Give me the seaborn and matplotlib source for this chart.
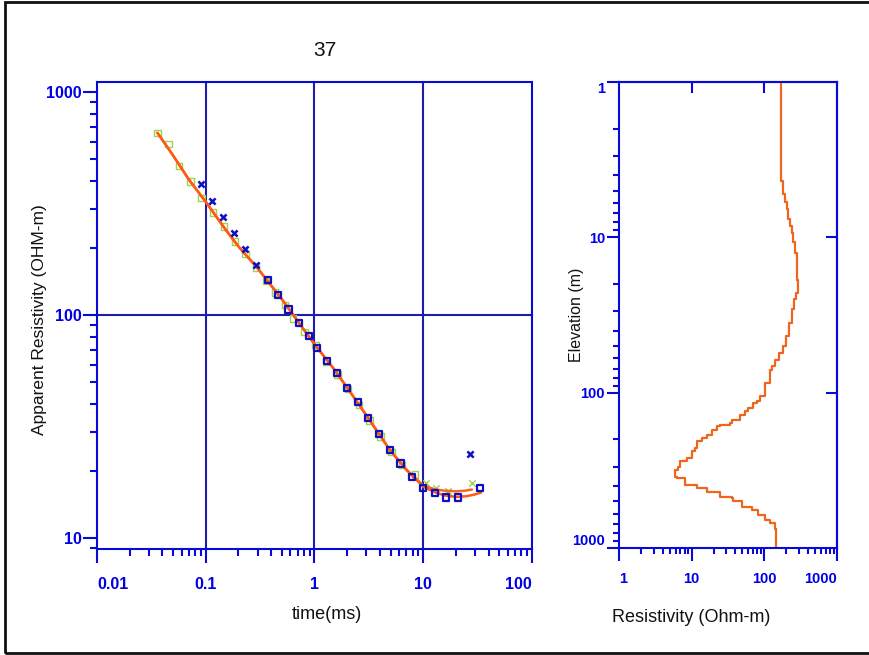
import numpy as np
import pandas as pd
import matplotlib
matplotlib.use("Agg")
import matplotlib.pyplot as plt
import seaborn as sns
from matplotlib.ticker import LogLocator, NullFormatter
from matplotlib.patches import Rectangle

sns.set_theme(style="ticks")
plt.rcParams["font.family"] = ["Liberation Sans", "DejaVu Sans"]

# --- sounding data (time in ms, apparent resistivity in ohm-m) ---
blue_x_t = [0.090, 0.1135, 0.143, 0.181, 0.232, 0.292, 26.8]
blue_x_rho = [388, 326, 276, 234, 198, 168, 23.8]
blue_sq_t = [0.371, 0.462, 0.576, 0.721, 0.886, 1.057, 1.306, 1.614, 1.995, 2.50,
             3.11, 3.90, 4.93, 6.18, 7.91, 9.98, 12.8, 16.1, 20.7, 33.2]
blue_sq_rho = [144, 123, 106, 91.8, 80.7, 71.0, 62.4, 54.8, 47.2, 40.6,
               34.5, 29.2, 24.8, 21.6, 18.8, 16.8, 15.9, 15.2, 15.2, 16.8]

green_sq_t = [0.036, 0.0457, 0.0568, 0.0723, 0.0912, 0.1167, 0.147, 0.186, 0.232, 0.290,
              0.36, 0.432, 0.533, 0.636, 0.81, 1.02, 1.28, 1.62, 2.03, 2.56,
              3.22, 4.06, 5.1, 6.4, 8.37]
green_sq_rho = [656, 585, 466, 396, 335, 288, 249, 214, 188, 163,
                142, 126, 111, 96.7, 84.1, 73.3, 62.0, 54.0, 46.5, 39.5,
                33.6, 28.5, 24.3, 21.3, 19.3]
green_x_t = [10.6, 13.2, 16.9, 27.8]
green_x_rho = [17.6, 16.8, 16.3, 17.7]

# model responses
model_a_t = [0.036, 0.05, 0.07, 0.1, 0.15, 0.2, 0.3, 0.5, 0.7, 1.0, 1.5, 2.0, 3.0,
             5.0, 7.0, 10, 13, 16, 20, 25, 30, 34]
model_a_rho = [656, 520, 405, 322, 244, 203, 162, 118, 94, 74, 57.5, 47.2, 35.5,
               24.6, 20.2, 17.0, 16.0, 15.5, 15.3, 15.4, 15.7, 16.0]
model_b_t = [0.036, 0.05, 0.07, 0.1, 0.15, 0.2, 0.3, 0.5, 0.7, 1.0, 1.5, 2.0, 3.0,
             5.0, 7.0, 10, 13, 16, 20, 24, 28]
model_b_rho = [656, 520, 405, 322, 244, 203, 162, 118, 94, 74, 57.5, 47.2, 35.5,
               24.6, 20.3, 17.2, 16.5, 16.3, 16.2, 16.3, 16.5]

# --- layered model (top of layer in m, resistivity in ohm-m) ---
layer_top = [1, 4.33, 5.28, 5.97, 6.6, 7.65, 8.5, 9.33, 10.8, 12.6, 15.0, 18.7, 22.7,
             25.1, 29.1, 35.5, 43.3, 50.3, 55.5, 61.2, 67.6, 71, 86.6, 105.6, 113.8,
             116.6, 125.6, 132, 138.7, 149.4, 156.8, 160.8, 165, 173.3, 186.6, 196,
             206, 227, 239, 264, 277, 299, 314, 347, 355, 392, 412, 433, 467, 478,
             502, 542, 569, 612, 659, 693, 757]
layer_rho = [169, 182, 192, 203, 213, 225, 238, 250, 264, 278, 284, 287, 270,
             255, 237, 220, 200, 180, 160, 140, 126, 119, 102, 87, 78,
             70, 60, 54, 46, 35.5, 33.6, 24.5, 22.1, 18.8, 16.1, 13.7,
             11.7, 11.1, 10, 8.5, 6.9, 6.5, 5.9, 6.2, 8.1, 11.7, 16.1, 24.5, 35.5, 37.4,
             48.7, 66.9, 82.5, 102, 119, 140, 144.5]
model_bottom = 1000

AX_BLUE = "#0a0ad8"
GRID_BLUE = "#1c1cb0"
LBL_BLUE = "#0000e6"
GREEN = "#a2d050"
ORANGE = "#ff5a14"
ORANGE2 = "#f26b1d"
TICKFONT = ["Liberation Sans", "DejaVu Sans"]

fig = plt.figure(figsize=(8.69, 6.55), dpi=100)
ax1 = fig.add_axes([0.1116, 0.1618, 0.5006, 0.7130])
ax2 = fig.add_axes([0.7123, 0.1634, 0.2509, 0.7115])

# ---------- left panel ----------
ax1.set_xscale("log")
ax1.set_yscale("log")
ax1.set_xlim(0.01, 100)
ax1.set_ylim(8.93, 1109)

for v in [0.1, 1, 10]:
    ax1.axvline(v, color=GRID_BLUE, lw=1.5, zorder=1)
ax1.axhline(100, color=GRID_BLUE, lw=1.5, zorder=1)

sns.scatterplot(x=green_sq_t, y=green_sq_rho, ax=ax1, marker="s", s=22,
                facecolor="none", edgecolor=GREEN, linewidth=1.0, zorder=3)
sns.scatterplot(x=green_x_t, y=green_x_rho, ax=ax1, marker="x", s=22,
                color=GREEN, linewidth=1.0, zorder=3)
sns.lineplot(x=model_b_t, y=model_b_rho, ax=ax1, color=ORANGE2, lw=1.8,
             estimator=None, sort=False, zorder=4)
sns.lineplot(x=model_a_t, y=model_a_rho, ax=ax1, color=ORANGE, lw=1.8,
             estimator=None, sort=False, zorder=4)
sns.scatterplot(x=blue_sq_t, y=blue_sq_rho, ax=ax1, marker="s", s=20,
                facecolor="none", edgecolor="#1010c0", linewidth=1.6, zorder=5)
sns.scatterplot(x=blue_x_t, y=blue_x_rho, ax=ax1, marker="x", s=20,
                color="#1010c0", linewidth=1.8, zorder=5)

ax1.set_xticks([0.01, 0.1, 1, 10, 100], labels=["0.01", "0.1", "1", "10", "100"])
ax1.set_yticks([10, 100, 1000], labels=["10", "100", "1000"])
ax1.xaxis.set_minor_locator(LogLocator(base=10, subs=np.arange(2, 10)))
ax1.yaxis.set_minor_locator(LogLocator(base=10, subs=np.arange(2, 10)))
ax1.xaxis.set_minor_formatter(NullFormatter())
ax1.yaxis.set_minor_formatter(NullFormatter())
ax1.tick_params(which="major", direction="out", length=10, width=1.5, color=AX_BLUE,
                labelcolor=LBL_BLUE, labelsize=11.5)
ax1.tick_params(axis="x", which="major", pad=10)
ax1.tick_params(axis="y", which="major", pad=1)
ax1.tick_params(which="minor", direction="out", length=5, width=1.5, color=AX_BLUE)
xl = ax1.get_xticklabels()
xl[0].set_ha("left")
xl[-1].set_ha("right")
for lab in ax1.get_xticklabels() + ax1.get_yticklabels():
    lab.set_fontfamily(TICKFONT)
    lab.set_fontweight("bold")
for sp in ax1.spines.values():
    sp.set_visible(True)
    sp.set_color(AX_BLUE)
    sp.set_linewidth(1.5)

ax1.set_xlabel("time(ms)", fontsize=13, color="#111111", va="center")
ax1.xaxis.set_label_coords(0.529, -0.141)
ax1.set_ylabel("Apparent Resistivity (OHM-m)", fontsize=12.5, color="#111111", va="center")
ax1.yaxis.set_label_coords(-0.131, 0.491)

fig.text(325 / 869, 1 - 50 / 655, "37", ha="center", va="center", fontsize=15,
         color="#111111")

# ---------- right panel ----------
ax2.set_xscale("log")
ax2.set_yscale("log")
ax2.set_xlim(1, 1000)
ax2.set_ylim(1000, 1)

step_x = np.repeat(layer_rho, 2)
step_y = np.column_stack([layer_top, layer_top[1:] + [model_bottom]]).ravel()
steps = pd.DataFrame({"rho": step_x, "depth": step_y})
sns.lineplot(data=steps, x="rho", y="depth", ax=ax2, color="#f0651e", lw=1.6,
             estimator=None, sort=False)

ax2.set_xticks([1, 10, 100, 1000], labels=["1", "10", "100", "1000"])
ax2.set_yticks([1, 10, 100, 1000], labels=["1", "10", "100", "1000"])
ax2.xaxis.set_minor_locator(LogLocator(base=10, subs=np.arange(2, 10)))
ax2.yaxis.set_minor_locator(LogLocator(base=10, subs=np.arange(2, 10)))
ax2.xaxis.set_minor_formatter(NullFormatter())
ax2.yaxis.set_minor_formatter(NullFormatter())
ax2.tick_params(which="major", direction="out", length=9, width=1.5, color=AX_BLUE,
                labelcolor=LBL_BLUE, labelsize=10.5)
ax2.tick_params(axis="x", which="major", pad=8)
ax2.tick_params(axis="y", which="major", pad=1)
ax2.tick_params(which="minor", direction="out", length=4.5, width=1.5, color=AX_BLUE)
xl2 = ax2.get_xticklabels()
xl2[0].set_ha("left")
xl2[-1].set_ha("right")
yl2 = ax2.get_yticklabels()
yl2[0].set_va("top")
yl2[-1].set_va("bottom")
for lab in ax2.get_xticklabels() + ax2.get_yticklabels():
    lab.set_fontfamily(TICKFONT)
    lab.set_fontweight("bold")
for sp in ax2.spines.values():
    sp.set_visible(True)
    sp.set_color(AX_BLUE)
    sp.set_linewidth(1.5)

top = ax2.secondary_xaxis("top")
top.set_xticks([10, 100], labels=["", ""])
top.tick_params(direction="in", length=8, width=1.5, color=AX_BLUE)
top.spines["top"].set_color(AX_BLUE)
top.spines["top"].set_linewidth(1.5)
right = ax2.secondary_yaxis("right")
right.set_yticks([10, 100], labels=["", ""])
right.tick_params(direction="in", length=8, width=1.5, color=AX_BLUE)
right.spines["right"].set_color(AX_BLUE)
right.spines["right"].set_linewidth(1.5)
for sec in (top, right):
    sec.minorticks_off()

ax2.set_xlabel("Resistivity (Ohm-m)", fontsize=13, color="#111111", va="center")
ax2.xaxis.set_label_coords((691 - 619) / 218, -(618 - 548) / 466)
ax2.set_ylabel("Elevation (m)", fontsize=11.5, color="#111111", va="center")
ax2.yaxis.set_label_coords(-(619 - 577) / 218, 0.5)

# page frame
fig.add_artist(Rectangle((5 / 869, 2 / 655), 1.1, 1 - 4 / 655, transform=fig.transFigure,
                         fill=False, edgecolor="#111111", lw=2))

fig.savefig("out.png", dpi=100)
